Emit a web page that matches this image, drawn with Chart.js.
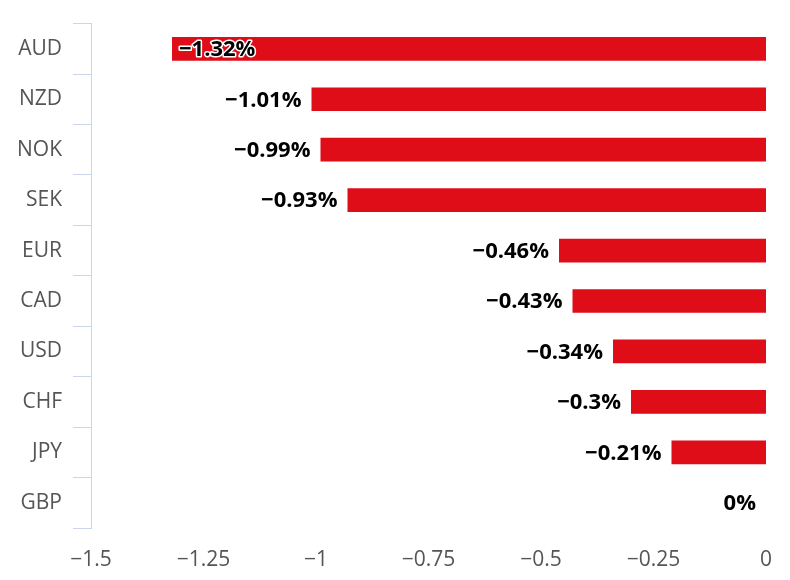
<!DOCTYPE html>
<html>
<head>
<meta charset="utf-8">
<script src="https://cdn.jsdelivr.net/npm/chart.js@4"></script>
<style>
  html, body { margin: 0; padding: 0; background: #fff; }
  canvas { display: block; }
</style>
</head>
<body>
<canvas id="chart" width="790" height="580"></canvas>
<script>
const currencies = ['AUD', 'NZD', 'NOK', 'SEK', 'EUR', 'CAD', 'USD', 'CHF', 'JPY', 'GBP'];
const changes = [-1.32, -1.01, -0.99, -0.93, -0.46, -0.43, -0.34, -0.3, -0.21, 0];
const xTicks = [-1.5, -1.25, -1, -0.75, -0.5, -0.25, 0];

const minus = (s) => String(s).replace('-', '\u2212');

// value label at the left end of each bar, moved inside when it would hit the axis
const barLabels = {
  id: 'barLabels',
  afterDatasetsDraw(chart) {
    const ctx = chart.ctx;
    const area = chart.chartArea;
    const meta = chart.getDatasetMeta(0);
    ctx.save();
    ctx.font = 'bold 22px "Open Sans"';
    ctx.textBaseline = 'middle';
    ctx.lineJoin = 'round';
    meta.data.forEach((bar, i) => {
      const text = minus(changes[i]) + '%';
      const w = ctx.measureText(text).width;
      let x = bar.x - 10;
      ctx.textAlign = 'right';
      if (x - w < area.left + 20) {
        x = bar.x + 7;
        ctx.textAlign = 'left';
      }
      ctx.strokeStyle = '#fff';
      ctx.lineWidth = 3;
      ctx.strokeText(text, x, bar.y + 1);
      ctx.fillStyle = '#000';
      ctx.fillText(text, x, bar.y + 1);
    });
    ctx.restore();
  }
};

new Chart(document.getElementById('chart'), {
  type: 'bar',
  data: {
    labels: currencies,
    datasets: [{
      data: changes,
      backgroundColor: '#df0d18',
      borderWidth: 0,
      barPercentage: 0.94,
      categoryPercentage: 0.5
    }]
  },
  options: {
    indexAxis: 'y',
    responsive: false,
    animation: false,
    layout: { padding: { top: 18, right: 24, bottom: 0, left: 0 } },
    plugins: {
      legend: { display: false },
      tooltip: { enabled: false }
    },
    scales: {
      x: {
        min: -1.5,
        max: 0,
        afterBuildTicks: (s) => { s.ticks = xTicks.map(v => ({ value: v })); },
        afterFit: (s) => { s.height = 52; },
        grid: { display: false },
        border: { display: false },
        ticks: {
          padding: 11,
          color: '#555',
          font: { family: '"Open Sans"', size: 21 },
          callback: (v) => minus(v)
        }
      },
      y: {
        afterFit: (s) => { s.width = 91; },
        grid: {
          offset: true,
          drawOnChartArea: false,
          tickLength: 18,
          color: '#ccd6eb'
        },
        border: { color: '#ccd6eb' },
        ticks: {
          padding: 11,
          color: '#555',
          font: { family: '"Open Sans"', size: 21 }
        }
      }
    }
  },
  plugins: [barLabels]
});
</script>
</body>
</html>
